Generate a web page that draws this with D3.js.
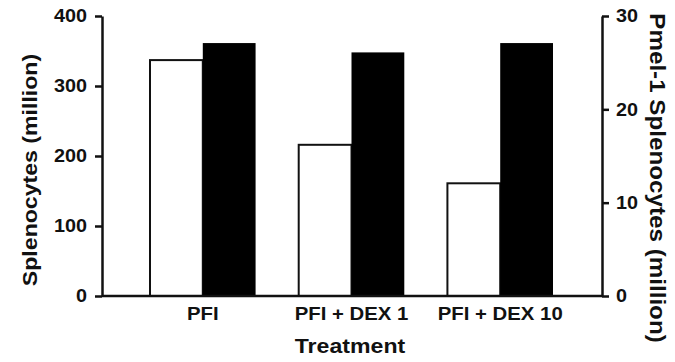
<!DOCTYPE html>
<html>
<head>
<meta charset="utf-8">
<script src="https://cdn.jsdelivr.net/npm/d3@7"></script>
<style>
	body { margin: 0; background: #fff; }
	text { font-family: "Liberation Sans", Arial, sans-serif; font-weight: bold; fill: #111; }
</style>
</head>
<body>
<div id="chart"></div>
<script>
const categories = ["PFI", "PFI + DEX 1", "PFI + DEX 10"]
const series = ["total", "pmel"]
const totalSplenocytes = [337, 216, 161]   // left axis, million
const pmelSplenocytes = [27.1, 26.1, 27.1] // right axis, million
const leftTicks = [0, 100, 200, 300, 400]
const rightTicks = [0, 10, 20, 30]

const params = {
	width: 675, height: 362,
	left: 102, right: 602, top: 16, bottom: 296,
	stretch: 1.1
}

// widen text a bit, the original lettering is a little expanded
const widen = (sel) => {
	sel.each(function () {
		const len = this.getComputedTextLength()
		d3.select(this).attr("textLength", len * params.stretch).attr("lengthAdjust", "spacingAndGlyphs")
	})
}

const svg = d3.select("#chart")
	.append("svg")
	.attr("width", params.width)
	.attr("height", params.height)

const xScale = d3.scaleBand()
	.domain(categories)
	.range([150, 553])
	.paddingInner(0.29)

const xInner = d3.scaleBand()
	.domain(series)
	.range([0, xScale.bandwidth()])

const yLeft = d3.scaleLinear().domain([0, 400]).range([params.bottom, params.top])
const yRight = d3.scaleLinear().domain([0, 30]).range([params.bottom, params.top])

const rows = categories.map((c, i) => ({ cat: c, total: totalSplenocytes[i], pmel: pmelSplenocytes[i] }))

// bars
const groups = svg.append("g")
	.selectAll("g")
	.data(rows)
	.join("g")
	.attr("transform", d => `translate(${xScale(d.cat)},0)`)

groups.append("rect")
	.attr("x", xInner("total"))
	.attr("y", d => yLeft(d.total))
	.attr("width", xInner.bandwidth())
	.attr("height", d => yLeft(0) - yLeft(d.total))
	.attr("fill", "#fff")
	.attr("stroke", "#111")
	.attr("stroke-width", 2)

groups.append("rect")
	.attr("x", xInner("pmel"))
	.attr("y", d => yRight(d.pmel))
	.attr("width", xInner.bandwidth())
	.attr("height", d => yRight(0) - yRight(d.pmel))
	.attr("fill", "#000")

// baseline
svg.append("line")
	.attr("x1", params.left).attr("x2", params.right)
	.attr("y1", params.bottom).attr("y2", params.bottom)
	.attr("stroke", "#111").attr("stroke-width", 2.5)

// axes
const leftAxis = svg.append("g")
	.attr("transform", `translate(${params.left},0)`)
	.call(d3.axisLeft(yLeft).tickValues(leftTicks).tickSize(7).tickSizeOuter(0).tickPadding(8))

const rightAxis = svg.append("g")
	.attr("transform", `translate(${params.right},0)`)
	.call(d3.axisRight(yRight).tickValues(rightTicks).tickSize(7).tickSizeOuter(0).tickPadding(7))

const xAxis = svg.append("g")
	.attr("transform", `translate(0,${params.bottom})`)
	.call(d3.axisBottom(xScale).tickSize(0).tickPadding(11))
xAxis.select(".domain").remove()

for (const [ax, size] of [[leftAxis, 18], [rightAxis, 18], [xAxis, 18.5]]) {
	ax.selectAll(".domain").attr("stroke", "#111").attr("stroke-width", 2.5)
	ax.selectAll(".tick line").attr("stroke", "#111").attr("stroke-width", 2.5)
	ax.selectAll(".tick text")
		.attr("font-size", size)
		.attr("font-family", "Liberation Sans, Arial, sans-serif")
		.attr("font-weight", "bold")
		.attr("fill", "#111")
		.call(widen)
}

// titles
svg.append("text")
	.attr("transform", "translate(37,170) rotate(-90)")
	.attr("text-anchor", "middle")
	.attr("font-size", 21)
	.text("Splenocytes (million)")
	.call(widen)

svg.append("text")
	.attr("transform", "translate(650,178) rotate(90)")
	.attr("text-anchor", "middle")
	.attr("font-size", 22)
	.text("Pmel-1 Splenocytes (million)")
	.call(widen)

svg.append("text")
	.attr("x", 350)
	.attr("y", 353)
	.attr("text-anchor", "middle")
	.attr("font-size", 21)
	.text("Treatment")
	.call(widen)
</script>
</body>
</html>
